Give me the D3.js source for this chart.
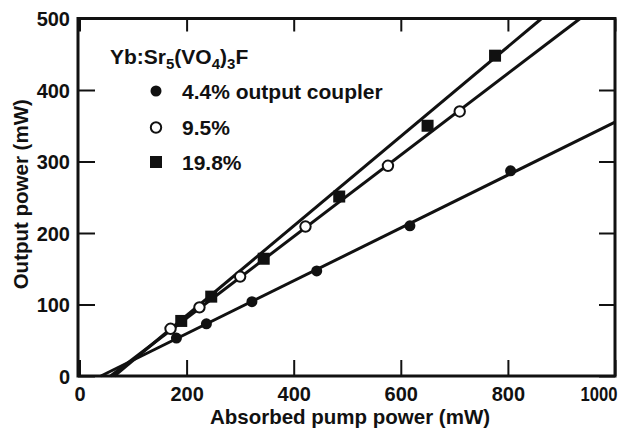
<!DOCTYPE html>
<html>
<head>
<meta charset="utf-8">
<script src="https://cdn.jsdelivr.net/npm/d3@7"></script>
<style>
  html, body { margin: 0; padding: 0; background: #fff; }
  svg { display: block; }
  text { font-family: "Liberation Sans", Arial, Helvetica, sans-serif; font-weight: bold; fill: #111; }
</style>
</head>
<body>
<svg id="chart" width="626" height="436"></svg>
<script>
// ---- data ----
const xTicks = [0, 200, 400, 600, 800, 1000];
const yTicks = [0, 100, 200, 300, 400, 500];
const xLabel = "Absorbed pump power (mW)";
const yLabel = "Output power (mW)";
const seriesNames = ["4.4% output coupler", "9.5%", "19.8%"];

// measured points (absorbed pump power, output power), mW
const pump44 = [181, 237, 322, 443, 617, 805];
const out44  = [53, 73, 104, 147, 210, 287];
const pump95 = [170, 224, 300, 422, 576, 710];
const out95  = [66, 96, 139, 209, 294, 370];
const pump198 = [190, 246, 344, 485, 650, 776];
const out198  = [77, 111, 164, 251, 350, 448];

// fitted straight lines (end points), mW
const fitPump44 = [40, 1000];  const fitOut44 = [0, 355];
const fitPump95 = [58, 935];   const fitOut95 = [0, 500];
const fitPump198 = [65, 863];  const fitOut198 = [0, 500];

// ---- drawing ----
const svg = d3.select("#chart");
const x = d3.scaleLinear().domain([0, 1000]).range([79.5, 615]);
const y = d3.scaleLinear().domain([0, 500]).range([376, 18.5]);

const zip = (a, b) => a.map((v, i) => [v, b[i]]);
const series = [
  { name: seriesNames[0], pts: zip(pump44, out44), fit: zip(fitPump44, fitOut44), mark: "dot" },
  { name: seriesNames[1], pts: zip(pump95, out95), fit: zip(fitPump95, fitOut95), mark: "open" },
  { name: seriesNames[2], pts: zip(pump198, out198), fit: zip(fitPump198, fitOut198), mark: "square" }
];

const ink = "#111";

// axes with inward ticks
const gL = svg.append("g").attr("transform", `translate(${x(0) - 1.5},0)`)
  .call(d3.axisLeft(y).tickValues(yTicks).tickFormat(d3.format("d")).tickSizeInner(-17).tickSizeOuter(0).tickPadding(8));
const gB = svg.append("g").attr("transform", `translate(0,${y(0)})`)
  .call(d3.axisBottom(x).tickValues(xTicks).tickFormat(d3.format("d")).tickSizeInner(-16).tickSizeOuter(0).tickPadding(11));
const gT = svg.append("g").attr("transform", `translate(0,${y(500)})`)
  .call(d3.axisTop(x).tickValues(xTicks).tickFormat("").tickSizeInner(-13).tickSizeOuter(0));
const gR = svg.append("g").attr("transform", `translate(${x(1000)},0)`)
  .call(d3.axisRight(y).tickValues(yTicks).tickFormat("").tickSizeInner(-16).tickSizeOuter(0));

[gL, gB, gT, gR].forEach(g => {
  g.select(".domain").remove();
  g.selectAll(".tick line").attr("stroke", ink).attr("stroke-width", 2);
  g.selectAll("text").attr("font-size", 20).attr("font-family", null).attr("fill", ink);
});
gL.selectAll("text").attr("dy", "0.36em");
// last x label kept inside the page, as in the reference
gB.selectAll(".tick text").filter(d => d === xTicks[xTicks.length - 1])
  .attr("text-anchor", "end").attr("x", 2).attr("textLength", 37).attr("lengthAdjust", "spacingAndGlyphs");

// frame
svg.append("rect")
  .attr("x", x(0) - 1.5).attr("y", y(500))
  .attr("width", x(1000) - x(0) + 1.5).attr("height", y(0) - y(500))
  .attr("fill", "none").attr("stroke", ink).attr("stroke-width", 3);

// axis titles
svg.append("text").attr("x", 350).attr("y", 424).attr("text-anchor", "middle")
  .attr("font-size", 20.5).text(xLabel);
svg.append("text").attr("transform", `translate(28,${(y(0) + y(500)) / 2 - 3}) rotate(-90)`)
  .attr("text-anchor", "middle").attr("font-size", 20.5).text(yLabel);

// fitted lines
const line = d3.line().x(d => x(d[0])).y(d => y(d[1]));
svg.append("g").selectAll("path").data(series).join("path")
  .attr("d", d => line(d.fit))
  .attr("fill", "none").attr("stroke", ink).attr("stroke-width", 3);

// markers
function drawMark(g, type, cx, cy) {
  if (type === "dot") {
    g.append("circle").attr("cx", cx).attr("cy", cy).attr("r", 5.5).attr("fill", ink);
  } else if (type === "open") {
    g.append("circle").attr("cx", cx).attr("cy", cy).attr("r", 5.2).attr("fill", "#fff")
      .attr("stroke", ink).attr("stroke-width", 2);
  } else {
    g.append("rect").attr("x", cx - 6).attr("y", cy - 6).attr("width", 12).attr("height", 12).attr("fill", ink);
  }
}
const gm = svg.append("g");
series.forEach(s => s.pts.forEach(p => drawMark(gm, s.mark, x(p[0]), y(p[1]))));

// legend
const lg = svg.append("g");
const title = lg.append("text").attr("x", 110).attr("y", 64).attr("font-size", 21);
title.append("tspan").text("Yb:Sr");
title.append("tspan").attr("dy", 5).attr("font-size", 15).text("5");
title.append("tspan").attr("dy", -5).text("(VO");
title.append("tspan").attr("dy", 5).attr("font-size", 15).text("4");
title.append("tspan").attr("dy", -5).text(")");
title.append("tspan").attr("dy", 5).attr("font-size", 15).text("3");
title.append("tspan").attr("dy", -5).text("F");

const legY = [91, 127.5, 162];
series.forEach((s, i) => {
  drawMark(lg, s.mark, 156, legY[i]);
  lg.append("text").attr("x", 182).attr("y", legY[i] + 7.5).attr("font-size", 21).text(s.name);
});
</script>
</body>
</html>
